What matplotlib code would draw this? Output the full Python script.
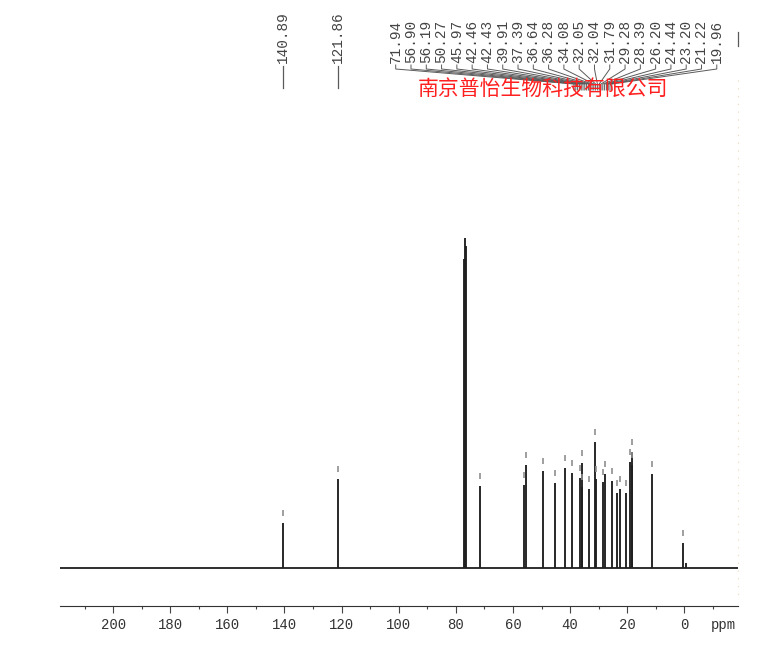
import matplotlib
matplotlib.use("Agg")
import matplotlib.pyplot as plt

W, H = 782, 664
plt.rcParams['font.family'] = ['Liberation Mono', 'DejaVu Sans']

# ---------------- data ----------------
# peak positions (ppm, as drawn) and their heights (relative intensity)
peak_ppm = [140.62, 121.36, 77.03, 76.68, 76.35, 71.43, 56.23, 55.53, 49.58,
            45.27, 41.77, 39.32, 36.62, 35.82, 35.65, 33.37, 31.27, 31.00,
            28.57, 27.66, 25.42, 23.67, 22.51, 20.52, 19.01, 18.42, 18.21,
            11.31, 0.35, -0.70]
peak_int = [45, 89, 309, 330, 322, 82, 83, 103, 97,
            85, 100, 95, 90, 105, 81, 79, 126, 89,
            86, 94, 87, 75, 79, 75, 106, 116, 103,
            94, 25, 5]
peak_picked = [1, 1, 0, 0, 0, 1, 1, 1, 1,
               1, 1, 1, 1, 1, 1, 1, 1, 1,
               1, 1, 1, 1, 1, 1, 1, 1, 1,
               1, 1, 0]

single_labels = ['140.89', '121.86']
single_label_ppm = [140.62, 121.36]
group_labels = ['71.94', '56.90', '56.19', '50.27', '45.97', '42.46', '42.43',
                '39.91', '37.39', '36.64', '36.28', '34.08', '32.05', '32.04',
                '31.79', '29.28', '28.39', '26.20', '24.44', '23.20', '21.22',
                '19.96']
watermark = '南京普怡生物科技有限公司'

xmin_ppm, xmax_ppm = 218.6, -18.8
major_ticks = [200, 180, 160, 140, 120, 100, 80, 60, 40, 20, 0]
minor_ticks = [210, 190, 170, 150, 130, 110, 90, 70, 50, 30, 10, -10]

# ---------------- figure ----------------
fig = plt.figure(figsize=(W / 100, H / 100), dpi=100)
fig.patch.set_facecolor('white')

ax_left, ax_right, ax_bottom, ax_top = 60, 738, 606, 100
ax = fig.add_axes([ax_left / W, (H - ax_bottom) / H,
                   (ax_right - ax_left) / W, (ax_bottom - ax_top) / H])
ax.set_xlim(xmin_ppm, xmax_ppm)
ax.set_ylim(-38, 468)
ax.patch.set_alpha(0)
for s in ['top', 'left', 'right']:
    ax.spines[s].set_visible(False)
ax.spines['bottom'].set_color('#333333')
ax.spines['bottom'].set_linewidth(0.8)
ax.set_yticks([])
ax.set_xticks(major_ticks)
ax.set_xticklabels([str(t) for t in major_ticks])
ax.set_xticks(minor_ticks, minor=True)
ax.tick_params(axis='x', which='major', direction='out', length=5, width=0.8,
               color='#444444', pad=3.6, labelsize=10, labelcolor='#333333')
ax.tick_params(axis='x', which='minor', direction='out', length=2.2, width=0.8,
               color='#444444')

# baseline
ax.plot([xmin_ppm, xmax_ppm], [0, 0], color='#1e1e1e', lw=1.3, zorder=2)
# peaks
ax.vlines(peak_ppm, 0, peak_int, color='#202020', lw=1.35, zorder=3)
# peak-pick markers
mk_x = [p for p, f in zip(peak_ppm, peak_picked) if f]
mk_y = [h for h, f in zip(peak_int, peak_picked) if f]
ax.vlines(mk_x, [y + 7 for y in mk_y], [y + 13 for y in mk_y],
          color='#8f8f8f', lw=1.2, zorder=3)

# ---------------- overlay (labels, leader lines) ----------------
ov = fig.add_axes([0, 0, 1, 1], zorder=5)
ov.set_xlim(0, W)
ov.set_ylim(H, 0)
ov.axis('off')
ov.patch.set_alpha(0)

def ppm_to_px(p):
    return ax.transData.transform((p, 0))[0]

lab_col = '#444444'
line_col = '#5a5a5a'

# single labels
for lab, p in zip(single_labels, single_label_ppm):
    x = ppm_to_px(p)
    ov.text(x, 63, lab, rotation=90, ha='center', va='bottom', fontsize=10.4,
            color=lab_col)
    ov.plot([x, x], [66, 88], color=line_col, lw=0.9)

# group labels with converging leader lines
x0, step = 395.7, 15.29
for i, lab in enumerate(group_labels):
    x = x0 + i * step
    ov.text(x, 63, lab, rotation=90, ha='center', va='bottom', fontsize=10.4,
            color=lab_col)
    xt = 574 + i * 1.8
    ov.plot([x, x, xt, xt], [65, 69, 84, 90], color=line_col, lw=0.7)

# truncated label line at right edge
ov.plot([738.3, 738.3], [32, 46], color=line_col, lw=0.9)
# faint dotted edge
ov.plot([738.3, 738.3], [80, 600], color='#ecd9b8', lw=0.8, ls=(0, (1, 6)))

# watermark
ov.text(543, 89, watermark, ha='center', va='center', fontsize=15,
        color='#ff1f1f', family=['Noto Sans CJK SC', 'DejaVu Sans'], zorder=10)

# ppm unit label
ov.text(723, 618, 'ppm', ha='center', va='top', fontsize=10, color='#333333')

fig.savefig('out.png', dpi=100)
